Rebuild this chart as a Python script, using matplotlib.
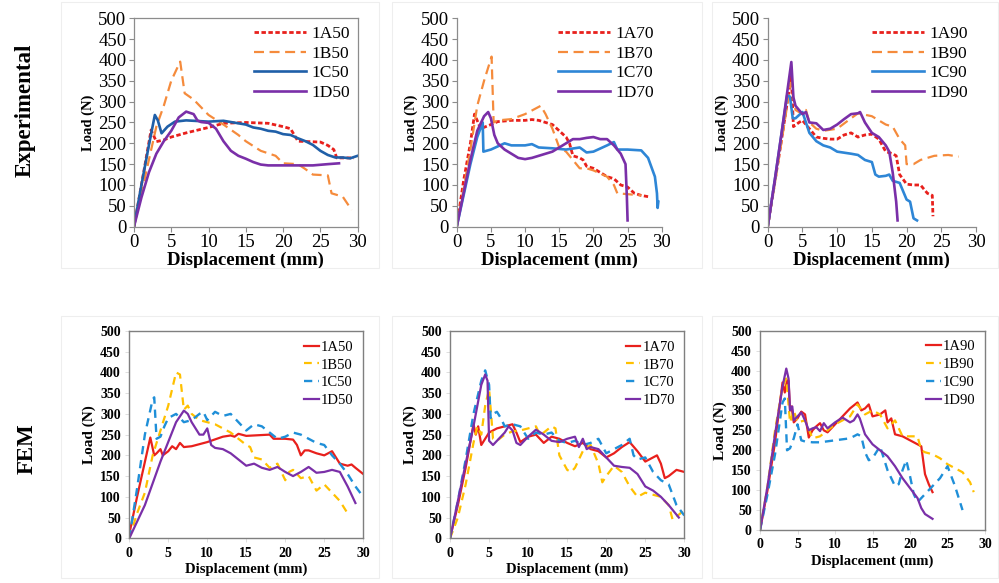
import matplotlib
matplotlib.use("Agg")
import matplotlib.pyplot as plt
from matplotlib.patches import Rectangle
import numpy as np

plt.rcParams["font.family"] = ["Liberation Serif", "DejaVu Serif"]

# ── Experimental, 50 ─────────────────────────────────────────────────────────
exp_1a50 = [(0, 0), (1, 100), (2.3, 232), (3.0, 204), (4, 208), (5, 215), (7, 225), (10, 238),
            (12, 248), (15, 250), (18, 248), (20, 240), (21, 235), (22, 205), (25, 203),
            (26, 195), (26.8, 185), (27.2, 165), (28, 165), (29.5, 165)]
exp_1b50 = [(0, 0), (1, 80), (2, 160), (3, 240), (4, 290), (5, 350), (6.2, 396), (6.8, 320),
            (8, 305), (10, 268), (12, 245), (14, 220), (15, 205), (17, 182), (18, 176),
            (19, 170), (20, 152), (22, 150), (23, 138), (24, 125), (26, 123), (26.5, 80),
            (28, 72), (29.2, 40)]
exp_1c50 = [(0, 0), (1, 100), (2, 195), (2.8, 268), (3.2, 255), (3.7, 224), (4.5, 240),
            (5.5, 252), (7, 255), (10, 252), (12, 254), (14, 248), (15, 245), (16, 238),
            (17, 235), (18, 230), (19, 228), (20, 222), (21, 220), (22, 212), (23, 205),
            (24, 196), (25, 182), (26, 172), (27, 166), (28, 166), (29, 164), (30, 170)]
exp_1d50 = [(0, 0), (1, 70), (2, 130), (3, 175), (4, 205), (5, 230), (6, 262), (7, 276),
            (8, 270), (8.5, 255), (9, 251), (10, 249), (11, 235), (12, 205), (13, 182),
            (14, 170), (15, 163), (16, 155), (17, 149), (18, 147), (20, 147), (22, 147),
            (24, 147), (26, 150), (27.5, 152)]

# ── Experimental, 70 ─────────────────────────────────────────────────────────
exp_1a70 = [(0, 0), (1, 110), (2, 200), (2.6, 270), (3.5, 235), (5, 245), (6, 252), (8, 255),
            (10, 255), (11, 257), (12, 255), (13, 250), (14, 245), (15, 230), (16, 215),
            (16.5, 200), (17, 170), (18, 165), (18.5, 160), (19, 145), (20, 140), (21, 130),
            (22, 120), (23, 115), (24, 100), (25, 95), (26, 80), (27, 75), (28, 72)]
exp_1b70 = [(0, 0), (1, 90), (2, 185), (3, 290), (4, 350), (5.1, 408), (5.4, 250), (6, 255),
            (8, 258), (10, 270), (12.3, 290), (13, 270), (14, 235), (15, 190), (16, 180),
            (17, 160), (18, 140), (19, 140), (20, 135), (22, 120), (23, 100), (23.5, 80),
            (25, 78), (27, 75)]
exp_1c70 = [(0, 0), (1, 75), (2, 150), (3, 215), (3.8, 250), (3.9, 180), (5, 185), (7, 200),
            (8, 195), (10, 195), (11, 198), (12, 190), (14, 188), (16, 185), (18, 190),
            (19, 178), (20, 180), (22, 195), (23, 203), (23.5, 185), (25, 185), (27, 183),
            (28, 165), (29, 120), (29.3, 80), (29.4, 45), (29.5, 60)]
exp_1d70 = [(0, 0), (1, 80), (2, 160), (3, 230), (4, 265), (4.6, 275), (5, 260), (5.5, 220),
            (6, 200), (7, 185), (8, 175), (9, 165), (10, 162), (11, 165), (12, 170), (14, 180),
            (15, 190), (16, 200), (17, 210), (18, 210), (19, 213), (20, 215), (21, 210),
            (22, 210), (23, 195), (24, 175), (24.7, 150), (24.9, 70), (25, 15)]

# ── Experimental, 90 ─────────────────────────────────────────────────────────
exp_1a90 = [(0, 0), (1, 105), (2, 210), (3.4, 362), (3.7, 240), (4.5, 250), (5, 255), (6, 235),
            (7, 215), (8, 212), (9, 210), (10, 210), (11, 220), (12, 225), (13, 215),
            (14, 220), (15, 222), (16, 210), (17, 180), (18, 175), (18.5, 170), (19, 125),
            (20, 102), (21, 100), (22, 100), (22.5, 90), (23, 80), (23.7, 75), (23.8, 25)]
exp_1b90 = [(0, 0), (1, 100), (2, 205), (3.3, 345), (4, 280), (5, 270), (5.5, 280), (6, 250),
            (7, 235), (8, 230), (10, 235), (12, 260), (13, 272), (15, 265), (16, 255),
            (17, 245), (18, 240), (19, 210), (19.8, 195), (20, 150), (21, 150), (22, 160),
            (24, 170), (26, 172), (27.5, 168)]
exp_1c90 = [(0, 0), (1, 110), (2, 225), (2.8, 315), (3.2, 312), (3.6, 260), (4, 260),
            (5, 275), (5.5, 250), (6, 225), (7, 205), (8, 195), (9, 190), (10, 180), (12, 175),
            (13, 172), (14, 160), (15, 155), (15.5, 125), (16, 120), (17, 122), (17.5, 125),
            (18, 110), (19, 105), (19.5, 85), (20, 65), (20.5, 60), (21, 20), (21.5, 15)]
exp_1d90 = [(0, 0), (1, 110), (2, 225), (3.4, 395), (3.7, 310), (4, 290), (5, 270), (5.5, 275),
            (6, 250), (7, 248), (8, 232), (9, 235), (10, 245), (11, 258), (12, 270), (13, 272),
            (13.3, 275), (14, 250), (15, 225), (16, 215), (17, 195), (17.5, 180), (18, 130),
            (18.5, 60), (18.7, 15)]

# ── FEM, 50 ──────────────────────────────────────────────────────────────────
fem_1a50 = [(0, 10), (1, 100), (2.7, 243), (3.2, 200), (3.5, 205), (4, 215), (4.3, 200),
            (5, 210), (5.5, 222), (6, 215), (6.5, 230), (7, 220), (8, 222), (10, 232),
            (12, 245), (13, 248), (13.5, 245), (14, 252), (15, 247), (18, 250), (18.5, 240),
            (20, 240), (21, 238), (21.5, 225), (22, 200), (22.5, 212), (23, 212), (24, 205),
            (25, 200), (25.5, 205), (26, 210), (26.5, 195), (27, 180), (28, 175), (28.5, 178),
            (29, 170), (30, 155)]
fem_1b50 = [(0, 0), (1, 60), (2, 110), (3, 200), (4, 260), (5, 320), (6, 400), (6.5, 395),
            (7, 310), (7.5, 320), (8, 300), (9, 285), (10, 280), (11, 275), (12, 265),
            (13, 255), (14, 240), (15, 225), (15.5, 220), (16, 195), (17, 190), (18, 170),
            (19, 180), (20, 140), (20.5, 160), (21, 165), (22, 145), (23, 150), (24, 115),
            (25, 130), (26, 110), (27, 90), (28, 60)]
fem_1c50 = [(0, 0), (1, 120), (2, 250), (3, 335), (3.2, 340), (3.5, 240), (4, 245), (4.5, 270),
            (5, 290), (6, 300), (7, 280), (8, 285), (9, 300), (9.5, 305), (10, 285), (11, 305),
            (12, 295), (13, 300), (14, 280), (15, 260), (16, 275), (17, 270), (18, 255),
            (19, 240), (20, 245), (21, 255), (22, 250), (23, 240), (24, 230), (25, 225),
            (26, 200), (27, 180), (28, 155), (29, 125), (30, 100)]
fem_1d50 = [(0, 0), (2, 80), (4, 185), (6, 280), (7, 308), (7.5, 300), (8, 280), (9, 250),
            (9.5, 250), (10, 265), (10.5, 225), (11, 218), (12, 215), (13, 205), (14, 190),
            (15, 175), (16, 180), (17, 170), (18, 165), (19, 172), (20, 160), (21, 150),
            (22, 160), (23, 172), (24, 158), (25, 160), (26, 165), (27, 160), (28, 125),
            (29, 85)]

# ── FEM, 70 ──────────────────────────────────────────────────────────────────
fem_1a70 = [(0, 0), (1, 80), (2, 170), (3, 275), (3.3, 250), (3.6, 270), (4, 225), (4.5, 240),
            (5, 255), (6, 265), (7, 270), (8, 275), (8.5, 255), (9, 232), (10, 245), (11, 250),
            (12, 230), (13, 245), (14, 240), (15, 230), (16, 222), (17, 230), (18, 215),
            (19, 210), (20, 195), (21, 205), (22, 220), (23, 232), (24, 210), (25, 185),
            (26, 195), (26.5, 200), (27, 180), (27.5, 145), (28, 150), (29, 165), (30, 160)]
fem_1b70 = [(0, 0), (1, 50), (2, 130), (3, 230), (3.5, 270), (4, 250), (4.5, 320), (5, 360),
            (5.3, 290), (5.5, 240), (6, 235), (7, 250), (8, 258), (9, 260), (10, 265),
            (11, 270), (11.5, 250), (12, 255), (13, 270), (13.5, 265), (14, 200), (15, 165),
            (15.5, 160), (16, 170), (17, 210), (18, 225), (19, 180), (19.5, 135), (20, 150),
            (21, 175), (22, 160), (23, 125), (24, 100), (25, 110), (26, 105), (27, 100),
            (28, 80), (28.5, 45), (29.5, 60), (30, 75)]
fem_1c70 = [(0, 0), (1, 90), (2, 190), (3, 300), (4, 380), (4.5, 405), (5, 370), (5.2, 290),
            (5.5, 300), (6, 305), (6.5, 290), (7, 270), (8, 275), (9, 270), (10, 240),
            (11, 255), (12, 250), (13, 255), (14, 235), (15, 230), (16, 235), (17, 225),
            (18, 230), (19, 240), (20, 205), (21, 215), (22, 225), (23, 240), (23.5, 200),
            (24, 190), (25, 195), (26, 160), (27, 140), (28, 130), (29, 80), (30, 55)]
fem_1d70 = [(0, 0), (2, 180), (3, 270), (4, 370), (4.5, 395), (4.8, 380), (5, 235),
            (5.5, 225), (6, 235), (7, 255), (7.5, 270), (8, 260), (8.5, 230), (9, 225),
            (10, 245), (11, 262), (12, 250), (13, 235), (14, 232), (15, 240), (16, 245),
            (16.5, 220), (17, 240), (17.5, 215), (18, 220), (19, 215), (20, 195), (21, 175),
            (22, 172), (23, 170), (24, 155), (25, 125), (26, 115), (27, 100), (28, 80),
            (29.3, 50)]

# ── FEM, 90 ──────────────────────────────────────────────────────────────────
fem_1a90 = [(0, 0), (1, 100), (2, 220), (3, 370), (3.3, 345), (3.6, 375), (3.8, 375),
            (4, 300), (4.2, 310), (4.5, 270), (5, 280), (5.5, 297), (6, 290), (6.5, 232),
            (7, 250), (7.5, 260), (8, 268), (8.5, 250), (9, 245), (10, 265), (11, 285),
            (12, 305), (13, 320), (13.5, 300), (14, 305), (14.5, 315), (15, 285), (16, 290),
            (16.7, 300), (17, 270), (17.5, 280), (18, 240), (19, 235), (20, 225), (21, 215),
            (21.5, 210), (22, 140), (22.5, 115), (23, 95)]
fem_1b90 = [(0, 0), (1, 110), (2, 250), (3, 360), (3.5, 380), (4, 270), (4.5, 300), (5, 270),
            (6, 275), (7, 230), (8, 235), (9, 250), (10, 265), (11, 275), (12, 285), (13, 315),
            (14, 290), (15, 300), (16, 290), (17, 255), (18, 275), (19, 235), (20, 235),
            (21, 235), (21.5, 200), (22, 195), (23, 190), (24, 180), (25, 165), (26, 155),
            (27, 145), (28, 120), (28.5, 95)]
fem_1c90 = [(0, 0), (1, 90), (2, 190), (3, 320), (3.3, 330), (3.6, 200), (4, 205), (4.5, 230),
            (5, 265), (5.5, 225), (6, 222), (7, 220), (8, 220), (10, 225), (12, 230),
            (13, 240), (13.5, 235), (14, 195), (14.5, 175), (15, 180), (16, 210), (16.5, 180),
            (17, 150), (18, 110), (18.5, 115), (19, 150), (19.5, 175), (20, 135), (20.5, 90),
            (21, 70), (22, 90), (23, 110), (24, 130), (25, 160), (26, 110), (27, 50)]
fem_1d90 = [(0, 0), (1, 110), (2, 240), (3, 360), (3.5, 405), (3.8, 380), (4, 300),
            (4.3, 310), (4.5, 275), (5, 285), (5.5, 295), (6, 275), (6.5, 250), (7, 255),
            (7.5, 258), (8, 248), (8.5, 268), (9, 255), (10, 270), (11, 282), (12, 270),
            (12.5, 275), (13, 290), (13.3, 280), (14, 240), (15, 215), (16, 200), (17, 185),
            (18, 160), (19, 130), (20, 105), (21, 80), (21.5, 55), (22, 40), (23, 28)]

EXP_SETS = [
    ("50", [exp_1a50, exp_1b50, exp_1c50, exp_1d50], "#1f5fa8"),
    ("70", [exp_1a70, exp_1b70, exp_1c70, exp_1d70], "#2e86d6"),
    ("90", [exp_1a90, exp_1b90, exp_1c90, exp_1d90], "#2e86d6"),
]
FEM_SETS = [
    ("50", [fem_1a50, fem_1b50, fem_1c50, fem_1d50]),
    ("70", [fem_1a70, fem_1b70, fem_1c70, fem_1d70]),
    ("90", [fem_1a90, fem_1b90, fem_1c90, fem_1d90]),
]
PREFIXES = ["1A", "1B", "1C", "1D"]

fig = plt.figure(figsize=(9.99, 5.83), dpi=100)

# marcos tenues de cada gráfico
for (x0, y0, w, h) in [(61, 2, 318, 266), (392, 2, 310, 266), (712, 2, 286, 266),
                       (61, 316, 318, 262), (392, 316, 310, 262), (712, 316, 286, 262)]:
    fig.add_artist(Rectangle((x0 / 999, 1 - (y0 + h) / 583), w / 999, h / 583,
                             transform=fig.transFigure, fill=False,
                             edgecolor="#eeeeee", linewidth=0.8))

top_pos = [(0.1341, 0.6112, 0.2239, 0.3575),
           (0.4572, 0.6112, 0.2052, 0.3575),
           (0.7685, 0.6112, 0.2085, 0.3575)]
bot_pos = [(0.1294, 0.0767, 0.2342, 0.3556),
           (0.4505, 0.0767, 0.2345, 0.3556),
           (0.7608, 0.0909, 0.2252, 0.3419)]


def _arr(pts):
    a = np.array(pts, dtype=float)
    return a[:, 0], a[:, 1]


# Fila superior: experimental
for i, ((suffix, curves, blue), pos) in enumerate(zip(EXP_SETS, top_pos)):
    ax = fig.add_axes(pos)
    styles = [dict(color="#e8201c", linestyle=(0, (1.6, 0.9)), linewidth=2.0),
              dict(color="#f58b3c", linestyle=(0, (4.5, 2.5)), linewidth=1.6),
              dict(color=blue, linestyle="-", linewidth=1.9),
              dict(color="#7a2fa8", linestyle="-", linewidth=1.9)]
    for pre, pts, st in zip(PREFIXES, curves, styles):
        x, y = _arr(pts)
        ax.plot(x, y, label=pre + suffix, **st)
    ax.set_xlim(0, 30)
    ax.set_ylim(0, 500)
    ax.set_xticks(np.arange(0, 31, 5))
    ax.set_yticks(np.arange(0, 501, 50))
    for side in ("top", "right"):
        ax.spines[side].set_visible(i == 0)
    for sp in ax.spines.values():
        sp.set_color("#8c8c8c")
        sp.set_linewidth(0.9)
    ax.tick_params(direction="out", length=3.5, width=0.8, color="#8c8c8c",
                   labelsize=13.5, pad=2)
    ax.set_xlabel("Displacement (mm)", fontsize=13.5, fontweight="bold", labelpad=0)
    ax.set_ylabel("Load (N)", fontsize=10.5, fontweight="bold", labelpad=2)
    ax.legend(loc="upper right", frameon=False, fontsize=12.5, handlelength=3.0,
              handletextpad=0.3, labelspacing=0.2, borderaxespad=0.05,
              bbox_to_anchor=(1.0, 1.0))

# Fila inferior: FEM
for (suffix, curves), pos in zip(FEM_SETS, bot_pos):
    ax = fig.add_axes(pos)
    styles = [dict(color="#e8201c", linestyle="-", linewidth=1.6),
              dict(color="#ffc000", linestyle=(0, (3.5, 2.5)), linewidth=1.6),
              dict(color="#1f8fd8", linestyle=(0, (3.5, 2.5)), linewidth=1.7),
              dict(color="#7a2fa8", linestyle="-", linewidth=1.6)]
    for pre, pts, st in zip(PREFIXES, curves, styles):
        x, y = _arr(pts)
        ax.plot(x, y, label=pre + suffix, **st)
    ax.set_xlim(0, 30)
    ax.set_ylim(0, 500)
    ax.set_xticks(np.arange(0, 31, 5))
    ax.set_yticks(np.arange(0, 501, 50))
    for sp in ax.spines.values():
        sp.set_color("#7f7f7f")
        sp.set_linewidth(1.0)
    ax.tick_params(direction="out", length=3, width=0.6, color="#d9d9d9",
                   labelsize=10, pad=3)
    for lab in ax.get_xticklabels() + ax.get_yticklabels():
        lab.set_fontweight("bold")
    ax.set_xlabel("Displacement (mm)", fontsize=10.5, fontweight="bold", labelpad=2)
    ax.set_ylabel("Load (N)", fontsize=11, fontweight="bold", labelpad=3)
    ax.legend(loc="upper right", frameon=False, fontsize=10.5, handlelength=1.0,
              handletextpad=0.15, labelspacing=0.32, borderaxespad=0.25)

fig.text(0.025, 0.811, "Experimental", rotation=90, ha="center", va="center",
         fontsize=16.5, fontweight="bold")
fig.text(0.027, 0.23, "FEM", rotation=90, ha="center", va="center",
         fontsize=16.5, fontweight="bold")

fig.savefig("out.png", dpi=100)
plt.close(fig)
